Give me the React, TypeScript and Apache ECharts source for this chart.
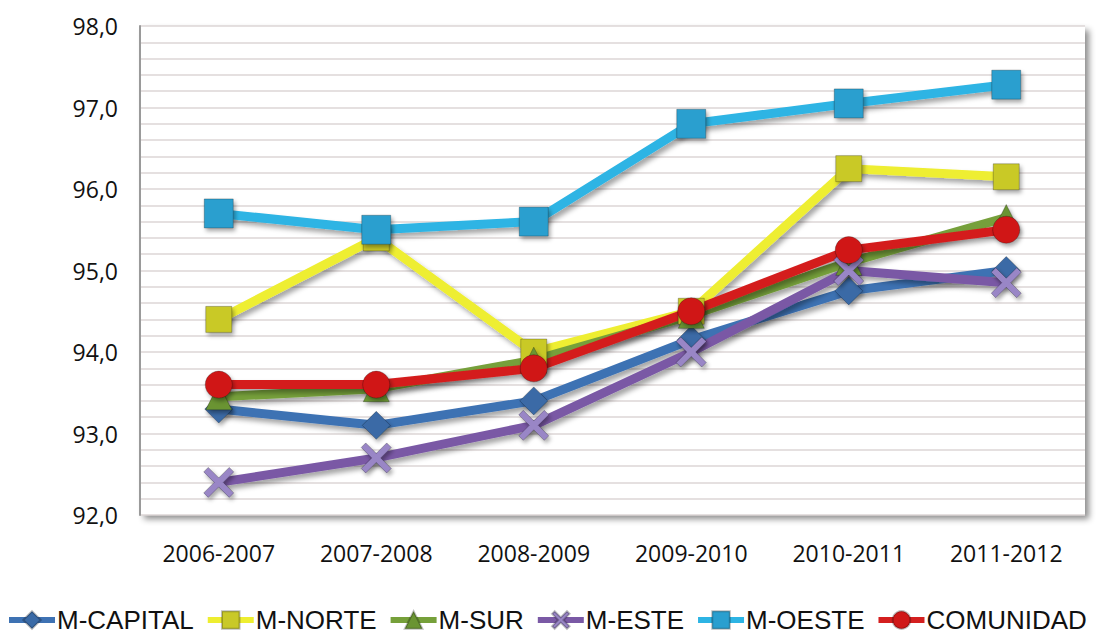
import React, { useEffect, useRef } from "react";
import * as echarts from "echarts";

const categories = ["2006-2007", "2007-2008", "2008-2009", "2009-2010", "2010-2011", "2011-2012"];
const mCapital = [93.3, 93.1, 93.4, 94.15, 94.75, 95.0];
const mNorte = [94.4, 95.4, 94.0, 94.5, 96.25, 96.15];
const mSur = [93.45, 93.55, 93.9, 94.45, 95.1, 95.65];
const mEste = [92.4, 92.7, 93.1, 94.0, 95.0, 94.85];
const mOeste = [95.7, 95.5, 95.6, 96.8, 97.05, 97.28];
const comunidad = [93.6, 93.6, 93.8, 94.5, 95.25, 95.5];
const yTicks = { min: 92, max: 98, interval: 1 };

const X_PATH =
  "path://M0,1.5 L1.5,0 L5,3.5 L8.5,0 L10,1.5 L6.5,5 L10,8.5 L8.5,10 L5,6.5 L1.5,10 L0,8.5 L3.5,5 Z";

export default function App() {
  const ref = useRef<HTMLDivElement>(null);
  useEffect(() => {
    if (!ref.current) return;
    document.body.style.margin = "0";
    const chart = echarts.init(ref.current, null, { renderer: "svg" });
    const lineShadow = {
      shadowColor: "rgba(0,0,0,0.35)",
      shadowBlur: 5,
      shadowOffsetX: 3,
      shadowOffsetY: 4,
    };
    const mk = (name: string, data: number[], color: string, marker: string, symbol: string, size: number) => ({
      name,
      type: "line",
      data,
      symbol,
      symbolSize: size,
      lineStyle: { color, width: 9, ...lineShadow },
      itemStyle: {
        color: marker,
        borderColor: "rgba(0,0,0,0.25)",
        borderWidth: 1,
        shadowColor: "rgba(0,0,0,0.35)",
        shadowBlur: 4,
        shadowOffsetX: 2,
        shadowOffsetY: 3,
      },
    });
    chart.setOption({
      animation: false,
      backgroundColor: "#ffffff",
      textStyle: { fontFamily: "Open Sans, sans-serif" },
      grid: {
        left: 140,
        right: 11,
        top: 26,
        bottom: 124,
        show: true,
        backgroundColor: "#ffffff",
        borderWidth: 0,
        shadowColor: "rgba(0,0,0,0.45)",
        shadowBlur: 6,
        shadowOffsetX: 4,
        shadowOffsetY: 4,
      },
      xAxis: {
        type: "category",
        data: categories,
        boundaryGap: true,
        axisLine: { show: false },
        axisTick: { show: false },
        axisLabel: { color: "#111", fontSize: 23, margin: 26 },
      },
      yAxis: {
        type: "value",
        min: yTicks.min,
        max: yTicks.max,
        interval: yTicks.interval,
        axisLine: { show: true, lineStyle: { color: "#9a9a9a", width: 2 } },
        axisTick: { show: false },
        minorTick: { show: false, splitNumber: 5 },
        splitLine: { show: true, lineStyle: { color: "#ddd6d6", width: 1.5 } },
        minorSplitLine: { show: true, lineStyle: { color: "#ddd6d6", width: 1.5 } },
        axisLabel: {
          color: "#111",
          fontSize: 23,
          margin: 22,
          formatter: (v: number) => v.toFixed(1).replace(".", ","),
        },
      },
      legend: {
        bottom: 6,
        left: 6,
        width: 1090,
        padding: 0,
        itemWidth: 46,
        itemHeight: 22,
        itemGap: 11,
        lineStyle: { width: 6 },
        textStyle: {
          fontFamily: "Liberation Sans Narrow, Arial Narrow, sans-serif",
          fontSize: 26,
          color: "#111",
          padding: [0, 0, 0, -3],
        },
        data: ["M-CAPITAL", "M-NORTE", "M-SUR", "M-ESTE", "M-OESTE", "COMUNIDAD"],
      },
      series: [
        mk("M-CAPITAL", mCapital, "#3e72b3", "#3a6aa6", "diamond", 28),
        mk("M-NORTE", mNorte, "#eeee30", "#c9c928", "rect", 26),
        mk("M-SUR", mSur, "#76a03a", "#6a9433", "triangle", 26),
        mk("M-ESTE", mEste, "#7a59a5", "#9986c6", X_PATH, 30),
        mk("M-OESTE", mOeste, "#2db4e4", "#2a9fcf", "rect", 29),
        mk("COMUNIDAD", comunidad, "#d41f1f", "#d01818", "circle", 27),
      ],
    });
    return () => chart.dispose();
  }, []);
  return <div ref={ref} style={{ width: 1096, height: 639 }} />;
}
